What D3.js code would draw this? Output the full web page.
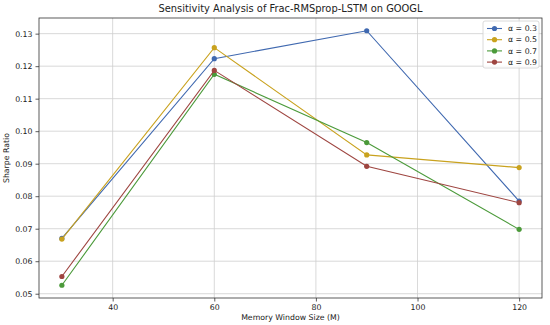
<!DOCTYPE html>
<html>
<head>
<meta charset="utf-8">
<script src="https://cdn.jsdelivr.net/npm/d3@7"></script>
<style>
  body { margin: 0; background: #fff; }
  text { font-family: "DejaVu Sans", sans-serif; fill: #222; }
</style>
</head>
<body>
<script>
// DATA
const windows = [30, 60, 90, 120];
const alphas = ["α = 0.3", "α = 0.5", "α = 0.7", "α = 0.9"];
const sharpe03 = [0.0670, 0.1223, 0.1309, 0.0785];
const sharpe05 = [0.0668, 0.1257, 0.0927, 0.0888];
const sharpe07 = [0.0526, 0.1175, 0.0965, 0.0698];
const sharpe09 = [0.0553, 0.1187, 0.0892, 0.0780];
const xTicks = [40, 60, 80, 100, 120];
const yTicks = [0.05, 0.06, 0.07, 0.08, 0.09, 0.10, 0.11, 0.12, 0.13];
const colors = ["#4069b0", "#c9a21e", "#4b9a3a", "#9e4540"];

const series = [sharpe03, sharpe05, sharpe07, sharpe09].map((vals, i) => ({
    name: alphas[i],
    color: colors[i],
    values: vals.map((v, j) => ({x: windows[j], y: v}))
}));

// DIMENSIONS
var margin = {top: 18, right: 8, bottom: 27, left: 39};
var width = 550 - margin.left - margin.right;
var height = 325 - margin.top - margin.bottom;

var svg = d3.select("body").append("svg")
    .attr("width", 550)
    .attr("height", 325);

var g = svg.append("g")
    .attr("transform", `translate(${margin.left}, ${margin.top})`);

// SCALES (matplotlib style 5% padding)
const allY = series.flatMap(s => s.values.map(d => d.y));
const yMin = d3.min(allY), yMax = d3.max(allY);
const yPad = (yMax - yMin) * 0.05;
const xPad = (d3.max(windows) - d3.min(windows)) * 0.05;

const x = d3.scaleLinear()
    .domain([d3.min(windows) - xPad, d3.max(windows) + xPad])
    .range([0, width]);

const y = d3.scaleLinear()
    .domain([yMin - yPad, yMax + yPad])
    .range([height, 0]);

// GRID
g.append("g").selectAll("line").data(xTicks).enter().append("line")
    .attr("x1", d => x(d)).attr("x2", d => x(d))
    .attr("y1", 0).attr("y2", height)
    .attr("stroke", "#cfcfcf").attr("stroke-width", 0.8);
g.append("g").selectAll("line").data(yTicks).enter().append("line")
    .attr("y1", d => y(d)).attr("y2", d => y(d))
    .attr("x1", 0).attr("x2", width)
    .attr("stroke", "#cfcfcf").attr("stroke-width", 0.8);

// AXES
var xAxis = g.append("g")
    .attr("transform", `translate(0, ${height})`)
    .call(d3.axisBottom(x).tickValues(xTicks).tickSize(3.5).tickPadding(3).tickFormat(d3.format("d")));
var yAxis = g.append("g")
    .call(d3.axisLeft(y).tickValues(yTicks).tickSize(3.5).tickPadding(3).tickFormat(d3.format(".2f")));
[xAxis, yAxis].forEach(a => {
    a.select(".domain").remove();
    a.selectAll("line").attr("stroke", "#333").attr("stroke-width", 0.8);
    a.selectAll("text").style("font-size", "7.8px").style("font-family", "DejaVu Sans").attr("fill", "#222");
});

// FRAME
g.append("rect")
    .attr("width", width).attr("height", height)
    .attr("fill", "none").attr("stroke", "#333").attr("stroke-width", 0.8);

// LINES
const line = d3.line().x(d => x(d.x)).y(d => y(d.y));
series.forEach(s => {
    g.append("path")
        .datum(s.values)
        .attr("d", line)
        .attr("fill", "none")
        .attr("stroke", s.color)
        .attr("stroke-width", 1.1);
    g.selectAll(null).data(s.values).enter().append("circle")
        .attr("cx", d => x(d.x)).attr("cy", d => y(d.y))
        .attr("r", 2.6)
        .attr("fill", s.color);
});

// LEGEND
var legend = g.append("g").attr("transform", `translate(${width - 59}, 3)`);
legend.append("rect")
    .attr("width", 56).attr("height", 47)
    .attr("rx", 2)
    .attr("fill", "#fff").attr("fill-opacity", 0.8)
    .attr("stroke", "#d0d0d0").attr("stroke-width", 0.8);
series.forEach((s, i) => {
    var row = legend.append("g").attr("transform", `translate(4, ${7.5 + i * 11.2})`);
    row.append("line").attr("x1", 0).attr("x2", 15).attr("stroke", s.color).attr("stroke-width", 1.1);
    row.append("circle").attr("cx", 7.5).attr("r", 2.6).attr("fill", s.color);
    row.append("text").attr("x", 21).attr("y", 2.7).style("font-size", "7.8px").text(s.name);
});

// TITLE AND AXIS LABELS
svg.append("text")
    .attr("x", margin.left + width / 2).attr("y", 12)
    .attr("text-anchor", "middle")
    .style("font-size", "9.9px")
    .text("Sensitivity Analysis of Frac-RMSprop-LSTM on GOOGL");

svg.append("text")
    .attr("x", margin.left + width / 2).attr("y", 320)
    .attr("text-anchor", "middle")
    .style("font-size", "7.8px")
    .text("Memory Window Size (M)");

svg.append("text")
    .attr("transform", "rotate(-90)")
    .attr("x", -(margin.top + height / 2)).attr("y", 9)
    .attr("text-anchor", "middle")
    .style("font-size", "7.8px")
    .text("Sharpe Ratio");
</script>
</body>
</html>
